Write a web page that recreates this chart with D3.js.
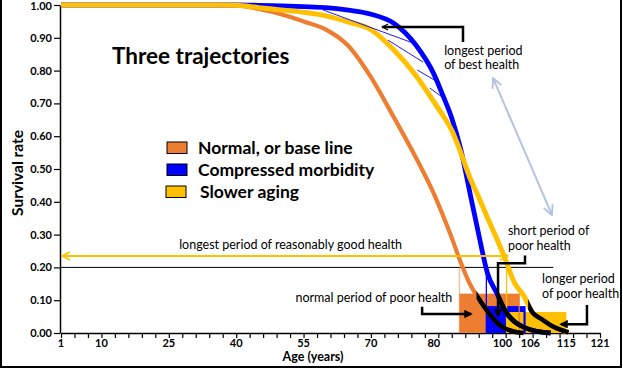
<!DOCTYPE html>
<html>
<head>
<meta charset="utf-8">
<script src="https://cdn.jsdelivr.net/npm/d3@7"></script>
<style>
  body { margin: 0; background: #fff; }
  svg text { font-family: Lato, "Open Sans", sans-serif; fill: #000; }
</style>
</head>
<body>
<div id="chart"></div>
<script>
// survival curves (age in years, survival 0..1)
const ages        = [1, 35, 40, 45, 50, 55, 60, 65, 70, 75, 80, 84, 86, 88, 90, 92, 94, 96, 98, 100, 102, 104, 106, 108, 110, 112, 114]
const normalBase  = [1, 1, 0.999, 0.988, 0.972, 0.95, 0.925, 0.875, 0.78, 0.66, 0.535, 0.425, 0.36, 0.29, 0.215, 0.15, 0.105, 0.065, 0.032, 0.013, 0.004, 0, null, null, null, null, null]
const compressed  = [1, 1, 1, 0.999, 0.997, 0.995, 0.992, 0.984, 0.972, 0.945, 0.878, 0.79, 0.725, 0.655, 0.56, 0.43, 0.3, 0.18, 0.122, 0.065, 0.034, 0.018, 0.008, 0.003, 0, null, null]
const slowerAging = [1, 1, 0.999, 0.992, 0.985, 0.978, 0.967, 0.948, 0.925, 0.864, 0.785, 0.705, 0.664, 0.618, 0.55, 0.475, 0.414, 0.35, 0.288, 0.222, 0.152, 0.114, 0.062, 0.042, 0.024, 0.011, 0.002]

// where the black "poor health" part of each curve starts
const tailStart = [93.5, 98, 105]

// poor health blocks: [from age, to age, height]
const blockNormal     = [89.7, 103.0, 0.12]
const blockCompressed = [95.7, 104.2, 0.082]
const blockSlower     = [100.2, 113.5, 0.064]

const yTicks = [0, 0.1, 0.2, 0.3, 0.4, 0.5, 0.6, 0.7, 0.8, 0.9, 1.0]
const xMinorTicks = d3.range(1, 122, 3)
const xTickLabels = ["1", "10", "25", "40", "55", "70", "80", "100", "106", "115", "121"]
const xTickLabelAt = [1, 10, 25, 40, 55, 70, 84, 99.3, 105.5, 113.5, 121]

const legendLabels = ["Normal, or base line", "Compressed morbidity", "Slower aging"]

// thin hatch lines between compressed and slower aging curves
const hatchFrom = [[59.3, 0.985], [73.8, 0.893], [80.3, 0.802], [83.1, 0.747]]
const hatchTo   = [[79.4, 0.884], [81.6, 0.826], [84.9, 0.765], [85.8, 0.72]]

const ORANGE = "#ED7D31", BLUE = "#0000FF", YELLOW = "#FFC000"

const width = 623, height = 369

const svg = d3.select("#chart").append("svg")
  .attr("width", width)
  .attr("height", height)

const x = d3.scaleLinear().domain([1, 121]).range([61, 600])
const y = d3.scaleLinear().domain([0, 1]).range([333, 5])

// markers
const defs = svg.append("defs")
defs.append("marker").attr("id", "tri")
  .attr("viewBox", "0 0 10 10").attr("refX", 8).attr("refY", 5)
  .attr("markerWidth", 3.4).attr("markerHeight", 3.4)
  .attr("orient", "auto-start-reverse")
  .append("path").attr("d", "M0,0 L10,5 L0,10 z").attr("fill", "#000")

function chevron(id, color, size) {
  defs.append("marker").attr("id", id)
    .attr("viewBox", "0 0 10 10").attr("refX", 9).attr("refY", 5)
    .attr("markerWidth", size).attr("markerHeight", size)
    .attr("orient", "auto-start-reverse")
    .append("path").attr("d", "M1,1 L9,5 L1,9")
    .attr("fill", "none").attr("stroke", color).attr("stroke-width", 1.6)
}
chevron("chevYellow", YELLOW, 5)
chevron("chevBlue", "#B4C3E1", 6)
chevron("chevBlack", "#000", 3)

// frame (no top edge in the original)
svg.append("path")
  .attr("d", `M1,0 V${height - 2} H${width - 2} V0`)
  .attr("fill", "none").attr("stroke", "#000").attr("stroke-width", 2)

// axes
const yAxis = svg.append("g")
  .attr("transform", "translate(60,0)")
  .call(d3.axisLeft(y).tickValues(yTicks).tickFormat(d3.format(".2f")).tickSize(6).tickSizeOuter(0).tickPadding(2))
yAxis.selectAll("text").style("font-size", "11px").style("font-weight", "700").attr("fill", "#000")
  .attr("dy", (d, i) => d === 1 ? "0.42em" : "0.32em")

const xAxis = svg.append("g")
  .attr("transform", "translate(0,333)")
  .call(d3.axisBottom(x).tickValues(xMinorTicks).tickFormat("").tickSize(5).tickSizeOuter(0))

svg.selectAll(".domain").attr("stroke", "#000").attr("stroke-width", 1.5)
svg.selectAll(".tick line").attr("stroke", "#000").attr("stroke-width", 1.2)

svg.append("g").selectAll("text")
  .data(xTickLabels)
  .join("text")
  .attr("x", (d, i) => x(xTickLabelAt[i]))
  .attr("y", 347)
  .attr("text-anchor", "middle")
  .style("font-size", "11px")
  .style("font-weight", "700")
  .text(d => d)

svg.append("text")
  .attr("x", 313).attr("y", 361)
  .attr("text-anchor", "middle")
  .style("font-size", "12.5px").style("font-weight", "700")
  .text("Age (years)")

svg.append("text")
  .attr("transform", "translate(23,173) rotate(-90)")
  .attr("text-anchor", "middle")
  .style("font-size", "15.5px").style("font-weight", "700")
  .text("Survival rate")

// title
svg.append("text")
  .attr("x", 112).attr("y", 64)
  .style("font-size", "22.5px").style("font-weight", "700")
  .text("Three trajectories")

// reference line at 0.20
svg.append("line")
  .attr("x1", x(1)).attr("x2", x(110.6))
  .attr("y1", y(0.2)).attr("y2", y(0.2))
  .attr("stroke", "#000").attr("stroke-width", 1)

// poor health blocks
const blocks = [
  {b: blockNormal, color: ORANGE},
  {b: blockCompressed, color: BLUE},
  {b: blockSlower, color: YELLOW}
]
svg.append("g").selectAll("rect")
  .data(blocks)
  .join("rect")
  .attr("x", d => x(d.b[0]))
  .attr("width", d => x(d.b[1]) - x(d.b[0]))
  .attr("y", d => y(d.b[2]))
  .attr("height", d => y(0) - y(d.b[2]))
  .attr("fill", d => d.color)

// edges of the blocks, left ones reach up to the 0.20 line
const edges = svg.append("g")
edges.selectAll("line.left")
  .data(blocks)
  .join("line")
  .attr("x1", d => x(d.b[0])).attr("x2", d => x(d.b[0]))
  .attr("y1", y(0.2)).attr("y2", y(0))
  .attr("stroke", d => d.color)
  .attr("stroke-opacity", (d, i) => i === 0 ? 0.5 : 1)
  .attr("stroke-width", 1.3)
edges.selectAll("line.right")
  .data(blocks.slice(0, 2))
  .join("line")
  .attr("x1", d => x(d.b[1])).attr("x2", d => x(d.b[1]))
  .attr("y1", d => y(d.b[2])).attr("y2", y(0))
  .attr("stroke", d => d.color)
  .attr("stroke-width", (d, i) => i === 0 ? 1.3 : 2.2)

// curves
const series = [
  {vals: normalBase, color: ORANGE, w: 4.2},
  {vals: compressed, color: BLUE, w: 4.8},
  {vals: slowerAging, color: YELLOW, w: 5}
]
const line = d3.line()
  .defined(d => d.v != null)
  .x(d => x(d.age))
  .y(d => y(d.v))
  .curve(d3.curveMonotoneX)

series.forEach(s => s.pts = ages.map((a, i) => ({age: a, v: s.vals[i]})))

svg.append("g").selectAll("path")
  .data(series)
  .join("path")
  .attr("d", d => line(d.pts))
  .attr("fill", "none")
  .attr("stroke", d => d.color)
  .attr("stroke-width", d => d.w)

// hatch lines
svg.append("g").selectAll("line")
  .data(hatchFrom)
  .join("line")
  .attr("x1", d => x(d[0])).attr("y1", d => y(d[1]))
  .attr("x2", (d, i) => x(hatchTo[i][0])).attr("y2", (d, i) => y(hatchTo[i][1]))
  .attr("stroke", BLUE).attr("stroke-width", 0.9)

// black tails (poor health) on top of each curve
series.forEach((s, i) => {
  defs.append("clipPath").attr("id", "tail" + i)
    .append("rect")
    .attr("x", x(tailStart[i])).attr("y", 0)
    .attr("width", width).attr("height", height)
  svg.append("path")
    .attr("d", line(s.pts))
    .attr("clip-path", `url(#tail${i})`)
    .attr("fill", "none")
    .attr("stroke", "#000")
    .attr("stroke-width", 4.6)
})

// legend
const legend = svg.append("g")
legendLabels.forEach((label, i) => {
  const ly = 142 + i * 22
  legend.append("rect")
    .attr("x", 167 - (i === 2 ? 1 : 0)).attr("y", ly)
    .attr("width", 20).attr("height", 11.5)
    .attr("fill", [ORANGE, BLUE, YELLOW][i])
    .attr("stroke", "#000").attr("stroke-width", 1)
  legend.append("text")
    .attr("x", 198 + (i === 2 ? 2 : 0)).attr("y", ly + 12)
    .style("font-size", "17.5px").style("font-weight", "700")
    .text(label)
})

// annotations
const note = (lines, ax, ay, lh) => {
  const t = svg.append("text").style("font-size", "12.5px")
  lines.forEach((l, i) => t.append("tspan").attr("x", x(ax)).attr("y", y(ay) + i * lh).text(l))
}
note(["longest period", "of best health"], 86.3, 0.848, 14)
note(["longest period of reasonably good health"], 27.3, 0.256, 0)
note(["normal period of poor health"], 53.2, 0.095, 0)
note(["short period of", "poor health"], 100.5, 0.3, 15)
note(["longer period", "of poor health"], 108.1, 0.152, 15)

const path = d3.line().x(d => x(d[0])).y(d => y(d[1]))

// yellow double arrow
svg.append("path")
  .attr("d", path([[1.2, 0.235], [100.5, 0.235]]))
  .attr("stroke", YELLOW).attr("stroke-width", 2).attr("fill", "none")
  .attr("marker-start", "url(#chevYellow)").attr("marker-end", "url(#chevYellow)")

// light blue double arrow
svg.append("path")
  .attr("d", path([[97.2, 0.777], [110.3, 0.36]]))
  .attr("stroke", "#B4C3E1").attr("stroke-width", 2).attr("fill", "none")
  .attr("marker-start", "url(#chevBlue)").attr("marker-end", "url(#chevBlue)")

// black callout arrows
svg.append("path")
  .attr("d", path([[90.5, 0.887], [90.5, 0.933], [72.5, 0.933]]))
  .attr("stroke", "#000").attr("stroke-width", 2.5).attr("fill", "none")
  .attr("marker-end", "url(#chevBlack)")

const callouts = [
  [[81.4, 0.08], [81.4, 0.058], [92.3, 0.058]],
  [[104.3, 0.236], [104.3, 0.213], [98.3, 0.213], [98.3, 0.052]],
  [[118.1, 0.085], [118.1, 0.027], [112.3, 0.027]]
]
svg.append("g").selectAll("path")
  .data(callouts)
  .join("path")
  .attr("d", d => path(d))
  .attr("stroke", "#000").attr("stroke-width", 2.5).attr("fill", "none")
  .attr("marker-end", "url(#tri)")
</script>
</body>
</html>
